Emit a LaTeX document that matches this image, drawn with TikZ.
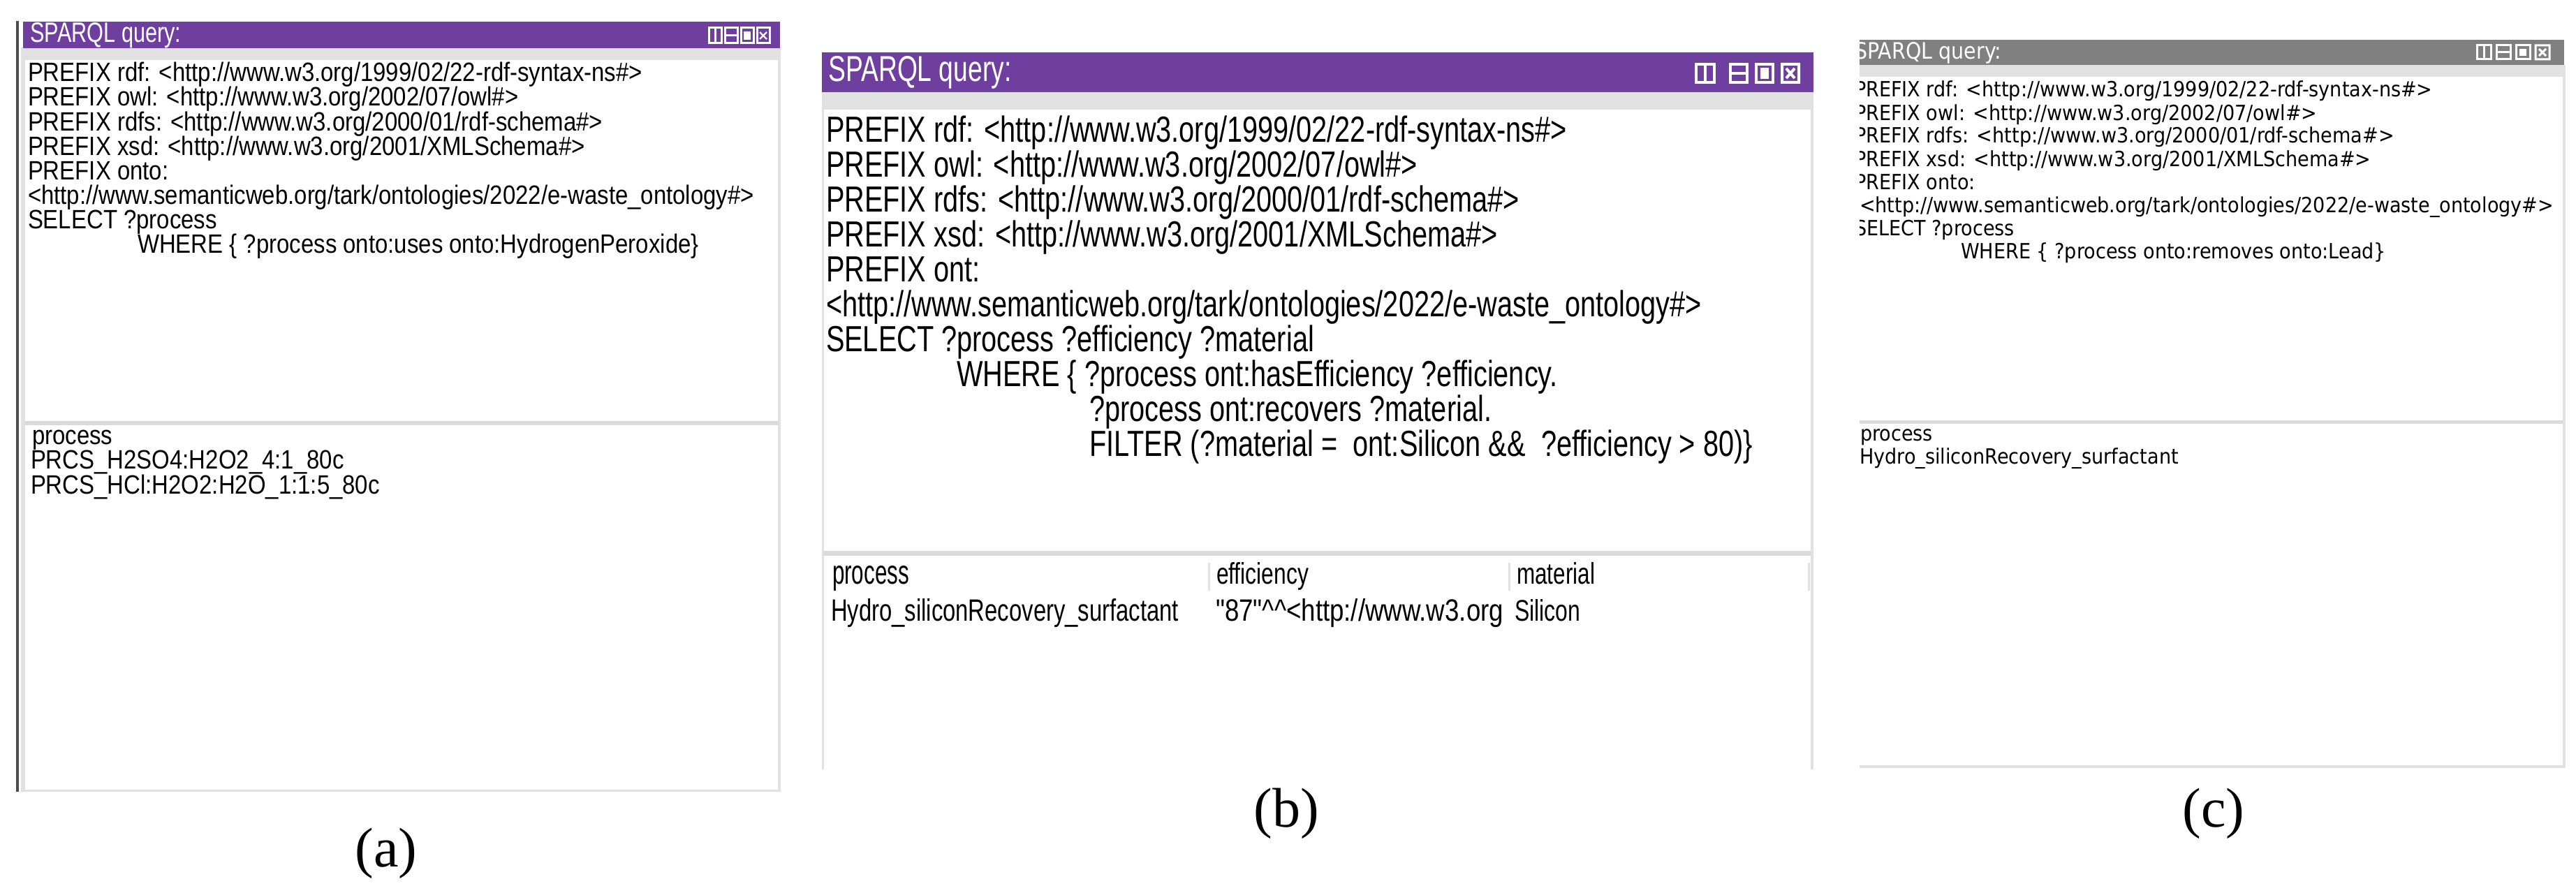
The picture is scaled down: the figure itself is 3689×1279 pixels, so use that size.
\documentclass[tikz,border=0pt]{standalone}
\usepackage{fontspec}
\setmainfont{Liberation Serif}
\newfontfamily\qa{Liberation Sans}
\newfontfamily\qc{DejaVu Sans}
\definecolor{purp}{RGB}{111,63,160}
\definecolor{barg}{RGB}{128,128,128}
\definecolor{sepg}{RGB}{218,218,218}
\definecolor{frameg}{RGB}{225,225,225}
\newlength\mwa\newlength\mwb\newlength\mwc
\settowidth\mwa{\qa\fontsize{19}{20}\selectfont <http://www.semanticweb.org/tark/ontologies/2022/e-waste\_ontology\#>}
\settowidth\mwb{\qa\fontsize{26}{28}\selectfont <http://www.semanticweb.org/tark/ontologies/2022/e-waste\_ontology\#>}
\settowidth\mwc{\qc\fontsize{15}{17}\selectfont <http://www.semanticweb.org/tark/ontologies/2022/e-waste\_ontology\#>}
\pgfmathsetmacro\sxa{520pt/\mwa}
\pgfmathsetmacro\sxb{627pt/\mwb}
\pgfmathsetmacro\sxc{497pt/\mwc}
\newcommand\La[1]{\scalebox{\sxa}[1]{\qa\fontsize{19}{20}\selectfont #1}}
\newcommand\Lb[1]{\scalebox{\sxb}[1]{\qa\fontsize{26}{28}\selectfont #1}}
\newcommand\Lc[1]{\scalebox{\sxc}[1]{\qc\fontsize{15}{17}\selectfont #1}}
\newcommand\Fit[3]{\resizebox{#1pt}{#2pt}{#3}}
\begin{document}
\begin{tikzpicture}[x=0.5pt,y=-0.5pt,
  ln/.style={anchor=base west,inner sep=0pt,outer sep=0pt},
  ttl/.style={anchor=base west,inner sep=0pt,text=white},
  capt/.style={inner sep=0pt,font=\fontsize{40}{48}\selectfont}]
\useasboundingbox (0,0) rectangle (3689,1279);

% ---------- panel (a) ----------
\fill[frameg] (30,68) rectangle (1118,1134);
\fill[white] (36,86) rectangle (1114,603);
\fill[sepg] (36,603) rectangle (1114,609);
\fill[white] (36,609) rectangle (1114,1131);
\fill[purp] (33,31) rectangle (1117,69);
\draw[black!70,line width=2] (25,30) -- (25,1134);
\node[ttl] (ta) at (43,61) {\Fit{108}{14}{\qa SPARQL query:}};
\foreach \xx in {1024,1047,1070,1093}{
  \draw[white,line width=1.5] (\xx-9,40) rectangle (\xx+9,62);}
\draw[white,line width=1.5] (1024,40) -- (1024,62);
\draw[white,line width=1.5] (1038,51) -- (1056,51);
\fill[white] (1065,45) rectangle (1075,57);
\draw[white,line width=1.2] (1088,46) -- (1098,56) (1088,56) -- (1098,46);
\node[ln] (a1) at (40,117) {\La{PREFIX rdf: <http://www.w3.org/1999/02/22-rdf-syntax-ns\#>}};
\node[ln] (a2) at (40,152) {\La{PREFIX owl: <http://www.w3.org/2002/07/owl\#>}};
\node[ln] (a3) at (40,187) {\La{PREFIX rdfs: <http://www.w3.org/2000/01/rdf-schema\#>}};
\node[ln] (a4) at (40,222) {\La{PREFIX xsd: <http://www.w3.org/2001/XMLSchema\#>}};
\node[ln] (a5) at (40,257) {\La{PREFIX onto:}};
\node[ln] (a6) at (40,292) {\La{<http://www.semanticweb.org/tark/ontologies/2022/e-waste\_ontology\#>}};
\node[ln] (a7) at (40,327) {\La{SELECT ?process}};
\node[ln] (a8) at (197,362) {\La{WHERE \{ ?process onto:uses onto:HydrogenPeroxide\}}};
\node[ln] (ar0) at (46,636) {\La{process}};
\node[ln] (ar1) at (44,671) {\La{PRCS\_H2SO4:H2O2\_4:1\_80c}};
\node[ln] (ar2) at (44,707) {\La{PRCS\_HCl:H2O2:H2O\_1:1:5\_80c}};
\node[capt] (capa) at (553,1222) {(a)};

% ---------- panel (b) ----------
\fill[frameg] (1177,130) rectangle (2597,1102);
\fill[white] (1180,157) rectangle (2593,789);
\fill[sepg] (1180,789) rectangle (2593,796);
\fill[white] (1180,796) rectangle (2593,1102);
\fill[purp] (1177,75) rectangle (2597,132);
\node[ttl] (tb) at (1186,117) {\Fit{131}{18}{\qa SPARQL query:}};
\draw[white,line width=2] (2429,92) rectangle (2455,118) (2442,92) -- (2442,118);
\draw[white,line width=2] (2478,92) rectangle (2502,118) (2478,105) -- (2502,105);
\draw[white,line width=2] (2515,92) rectangle (2539,118);
\fill[white] (2521,97) rectangle (2533,113);
\draw[white,line width=2] (2552,92) rectangle (2576,118) (2558,98) -- (2570,112) (2558,112) -- (2570,98);
\node[ln] (b1) at (1183,203) {\Lb{PREFIX rdf: <http://www.w3.org/1999/02/22-rdf-syntax-ns\#>}};
\node[ln] (b2) at (1183,253) {\Lb{PREFIX owl: <http://www.w3.org/2002/07/owl\#>}};
\node[ln] (b3) at (1183,303) {\Lb{PREFIX rdfs: <http://www.w3.org/2000/01/rdf-schema\#>}};
\node[ln] (b4) at (1183,353) {\Lb{PREFIX xsd: <http://www.w3.org/2001/XMLSchema\#>}};
\node[ln] (b5) at (1183,403) {\Lb{PREFIX ont:}};
\node[ln] (b6) at (1183,453) {\Lb{<http://www.semanticweb.org/tark/ontologies/2022/e-waste\_ontology\#>}};
\node[ln] (b7) at (1183,503) {\Lb{SELECT ?process ?efficiency ?material}};
\node[ln] (b8) at (1370,553) {\Lb{WHERE \{ ?process ont:hasEfficiency ?efficiency.}};
\node[ln] (b9) at (1560,603) {\Lb{?process ont:recovers ?material.}};
\node[ln] (b10) at (1560,653) {\Lb{FILTER (?material = \ ont:Silicon \&\& \ ?efficiency > 80)\}}};
\draw[frameg,line width=1.5] (1731,806) -- (1731,846) (2161,806) -- (2161,846) (2590,806) -- (2590,846);
\node[ln] (br0) at (1192,836) {\Fit{55}{13}{\qa process}};
\node[ln] (br1) at (1742,836) {\Fit{66}{15.5}{\qa efficiency}};
\node[ln] (br2) at (2172,836) {\Fit{56}{15.5}{\qa material}};
\node[ln] (br3) at (1190,889) {\Fit{249}{16}{\qa Hydro\_siliconRecovery\_surfactant}};
\node[ln] (br4) at (1741,889) {\Fit{206}{16}{\qa "87"\textasciicircum\textasciicircum<http://www.w3.org}};
\node[ln] (br5) at (2169,889) {\Fit{47}{15.5}{\qa Silicon}};
\node[capt] (capb) at (1842,1165) {(b)};

% ---------- panel (c) ----------
\fill[frameg] (2663,93) rectangle (3674,1100);
\fill[white] (2663,110) rectangle (3670,602);
\fill[sepg] (2663,602) rectangle (3670,607);
\fill[white] (2663,607) rectangle (3670,1096);
\fill[barg] (2663,57) rectangle (3672,93);
\begin{scope}
\clip (2663,50) rectangle (3680,1100);
\node[ttl] (tc) at (2656,85) {\Fit{105}{12}{\qc SPARQL query:}};
\node[ln] (c1) at (2656,139) {\Lc{PREFIX rdf: <http://www.w3.org/1999/02/22-rdf-syntax-ns\#>}};
\node[ln] (c2) at (2656,172) {\Lc{PREFIX owl: <http://www.w3.org/2002/07/owl\#>}};
\node[ln] (c3) at (2656,205) {\Lc{PREFIX rdfs: <http://www.w3.org/2000/01/rdf-schema\#>}};
\node[ln] (c4) at (2656,238) {\Lc{PREFIX xsd: <http://www.w3.org/2001/XMLSchema\#>}};
\node[ln] (c5) at (2656,271) {\Lc{PREFIX onto:}};
\node[ln] (c6) at (2663,304) {\Lc{<http://www.semanticweb.org/tark/ontologies/2022/e-waste\_ontology\#>}};
\node[ln] (c7) at (2656,337) {\Lc{SELECT ?process}};
\node[ln] (c8) at (2808,370) {\Lc{WHERE \{ ?process onto:removes onto:Lead\}}};
\node[ln] (cr0) at (2664,631) {\Lc{process}};
\node[ln] (cr1) at (2663,664) {\Lc{Hydro\_siliconRecovery\_surfactant}};
\end{scope}
\draw[white,line width=1.5] (3547,65) rectangle (3567,85) (3557,65) -- (3557,85);
\draw[white,line width=1.5] (3575,65) rectangle (3595,85) (3575,75) -- (3595,75);
\draw[white,line width=1.5] (3603,65) rectangle (3623,85);
\fill[white] (3608,70) rectangle (3618,80);
\draw[white,line width=1.5] (3631,65) rectangle (3651,85) (3636,70) -- (3646,80) (3636,80) -- (3646,70);
\node[capt] (capc) at (3170,1165) {(c)};
\end{tikzpicture}
\end{document}
